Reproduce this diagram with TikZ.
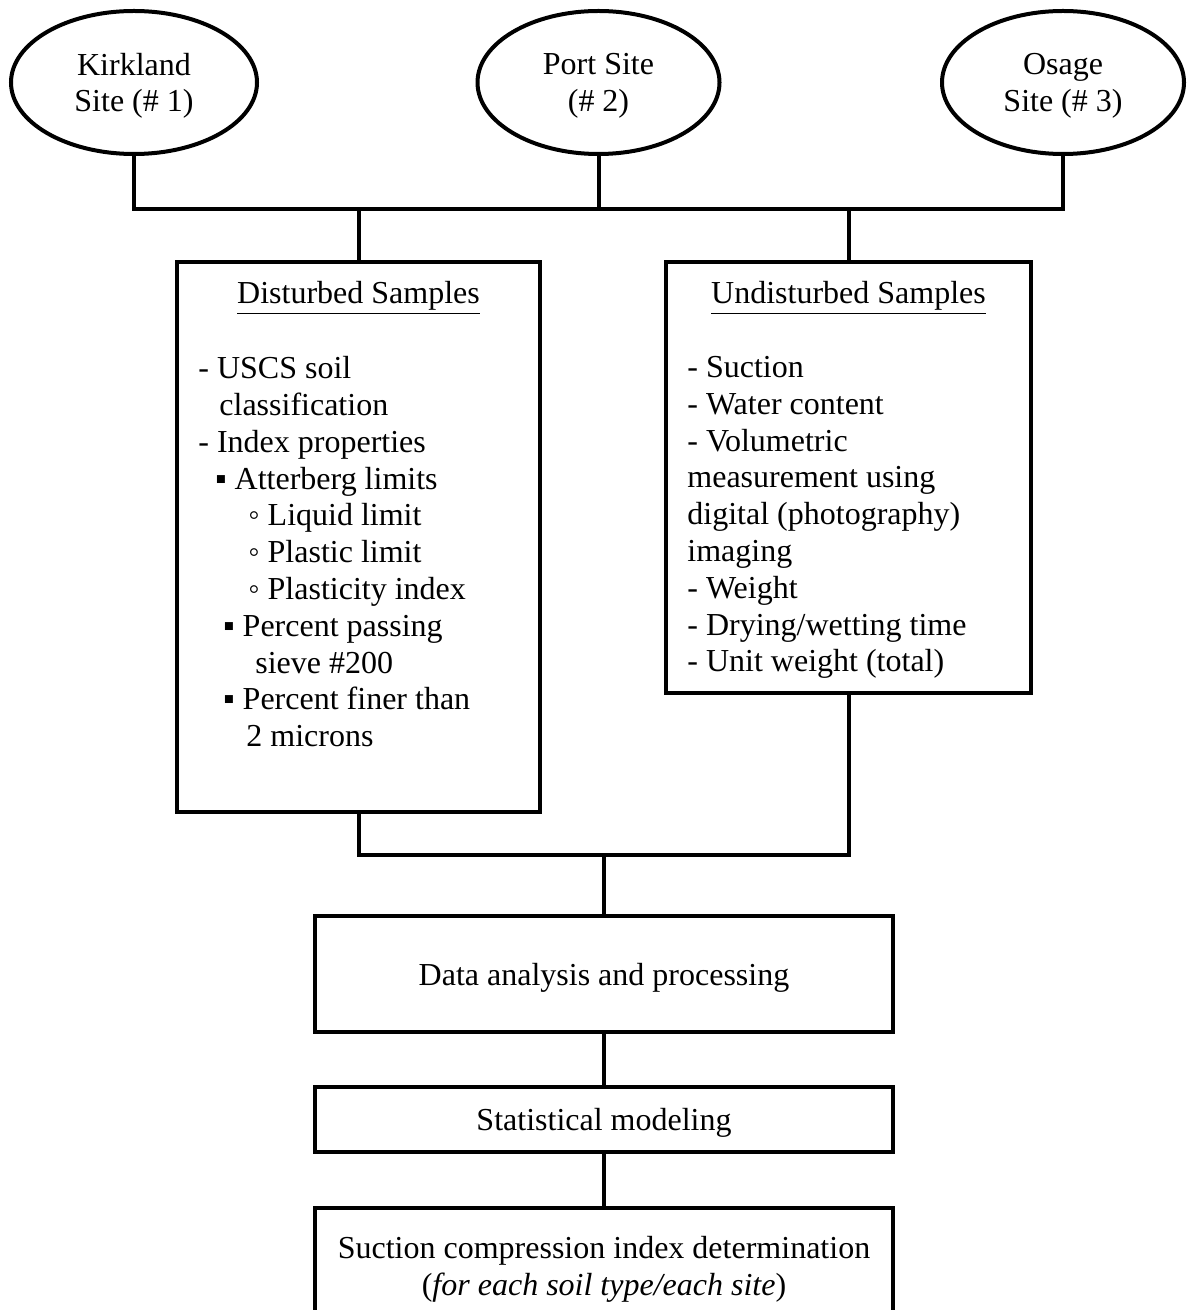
\documentclass[tikz,border=0pt]{standalone}
\usepackage{fontspec}
\setmainfont{Liberation Serif}
\usepackage{tikz}
\usetikzlibrary{shapes.geometric}

\begin{document}
\begin{tikzpicture}[x=0.5pt,y=-0.5pt,font=\fontsize{16}{18.4}\selectfont]
\tikzstyle{every node}+=[inner sep=0pt]
\tikzstyle{site}=[draw, ellipse, line width=2pt, minimum width=121pt, minimum height=71.5pt, align=center, text depth=0pt]
\tikzstyle{block}=[draw, rectangle, line width=2pt, align=center, text depth=0pt]
\tikzstyle{wire}=[line width=2pt]
\tikzstyle{items}=[align=left, anchor=north west]
\useasboundingbox (0,0) rectangle (1190,1310);
\node [site, minimum width=123pt] (kirkland) at (134,82.5) {Kirkland\\Site (\# 1)};
\node [site] (port) at (598.5,82.5) {Port Site\\(\# 2)};
\node [site] (osage) at (1063,82.5) {Osage\\Site (\# 3)};
\node [block, minimum width=181.5pt, minimum height=275pt] (disturbed) at (358.5,537) {};
\node [block, minimum width=182.5pt, minimum height=215.5pt] (undisturbed) at (848.5,477.5) {};
\node [anchor=base] (disturbedtitle) at (358.5,304) {\underline{Disturbed Samples}};
\node [anchor=base] (undisturbedtitle) at (848.5,304) {\underline{Undisturbed Samples}};
\node [items] (disturbedlist) at (198,356) {- USCS soil\\
\hspace*{10.5pt}classification\\
- Index properties\\
\hspace*{8.5pt}▪ Atterberg limits\\
\hspace*{25pt}◦ Liquid limit\\
\hspace*{25pt}◦ Plastic limit\\
\hspace*{25pt}◦ Plasticity index\\
\hspace*{12.5pt}▪ Percent passing\\
\hspace*{28.5pt}sieve \#200\\
\hspace*{12.5pt}▪ Percent finer than\\
\hspace*{24pt}2 microns};
\node [items] (undisturbedlist) at (687,356) {- Suction\\
- Water content\\
- Volumetric\\
measurement using\\
digital (photography)\\
imaging\\
- Weight\\
- Drying/wetting time\\
- Unit weight (total)};
\node [block, minimum width=289pt, minimum height=58pt] (analysis) at (604,974) {Data analysis and processing};
\node [block, minimum width=289pt, minimum height=32.5pt] (modeling) at (604,1119.5) {Statistical modeling};
\node [block, minimum width=289pt, minimum height=58pt] (index) at (604,1266) {Suction compression index determination\\(\textit{for each soil type/each site})};
\coordinate (upper) at (0,209);
\coordinate (lower) at (0,855);
\draw [wire] (kirkland.south) -- (kirkland.south |- upper) -- (osage.south |- upper) -- (osage.south);
\draw [wire] (port.south) -- (port.south |- upper);
\draw [wire] (disturbed.north) -- (disturbed.north |- upper);
\draw [wire] (undisturbed.north) -- (undisturbed.north |- upper);
\draw [wire] (disturbed.south) -- (disturbed.south |- lower) -- (undisturbed.south |- lower) -- (undisturbed.south);
\draw [wire] (analysis.north) -- (analysis.north |- lower);
\draw [wire] (analysis.south) -- (modeling.north);
\draw [wire] (modeling.south) -- (index.north);
\end{tikzpicture}
\end{document}
